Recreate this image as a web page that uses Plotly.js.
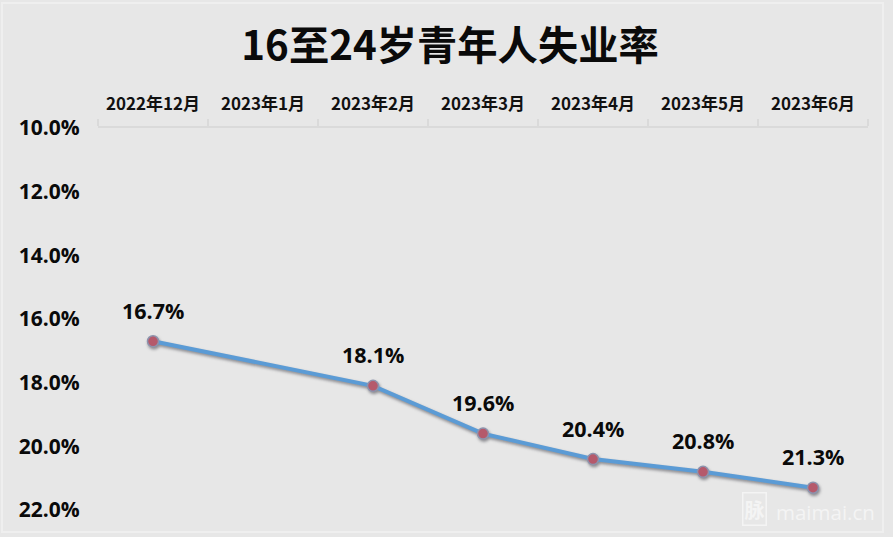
<!DOCTYPE html>
<html><head><meta charset="utf-8">
<script src="https://cdn.plot.ly/plotly-3.0.1.min.js"></script>
<style>html,body{margin:0;padding:0;background:#e7e7e7}</style></head>
<body><div id="c" style="width:893px;height:537px"></div>
<script>
const months = ['2022年12月','2023年1月','2023年2月','2023年3月','2023年4月','2023年5月','2023年6月'];
const rates = [16.7,null,18.1,19.6,20.4,20.8,21.3];
const rateLabels = ['16.7%','','18.1%','19.6%','20.4%','20.8%','21.3%'];
const yTicks = [10,12,14,16,18,20,22];
const yTickLabels = ['10.0%','12.0%','14.0%','16.0%','18.0%','20.0%','22.0%'];
const F = '"Noto Sans CJK SC","Open Sans",sans-serif';
const px = v => (v-98)/770, py = v => (510-v)/382;

const annotations = months.map((m,i)=>rates[i]===null?null:({
  x:m,y:rates[i],xref:'x',yref:'y',text:'<b>'+rateLabels[i]+'</b>',showarrow:false,
  yshift:31,font:{family:'"Open Sans",sans-serif',size:21.5,color:'#0a0a0a'}
})).filter(Boolean);
annotations.push({xref:'paper',yref:'paper',x:px(754),y:py(509),xanchor:'center',yanchor:'middle',
  text:'<b>脉</b>',showarrow:false,bordercolor:'#f4f4f4',borderwidth:1.5,borderpad:1,
  font:{family:F,size:20,color:'#f4f4f4'}});
annotations.push({xref:'paper',yref:'paper',x:px(825),y:py(512),xanchor:'center',yanchor:'middle',
  text:'maimai.cn',showarrow:false,font:{family:'"Open Sans",sans-serif',size:20.5,color:'#f4f4f4'}});

Plotly.newPlot('c',[{
  x:months,y:rates,type:'scatter',mode:'lines+markers',connectgaps:true,
  line:{color:'#5b9bd5',width:4},
  marker:{size:11,color:'#b5596b',line:{color:'#8d93ad',width:1.5}},
  hoverinfo:'skip'
}],{
  width:893,height:537,
  paper_bgcolor:'#e7e7e7',plot_bgcolor:'#e7e7e7',
  margin:{l:98,r:25,t:128,b:27},
  showlegend:false,
  shapes:[{type:'rect',xref:'paper',yref:'paper',x0:px(2),x1:px(883),y0:py(532),y1:py(3),
    line:{color:'#efefef',width:2},layer:'below'}],
  title:{text:'<b>16至24岁青年人失业率</b>',x:0.504,xanchor:'center',y:0.915,yanchor:'middle',
    font:{family:F,size:40.3,color:'#0a0a0a'}},
  xaxis:{type:'category',categoryorder:'array',categoryarray:months,side:'top',
    range:[-0.5,6.5],tickson:'boundaries',ticks:'outside',ticklen:7,tickcolor:'#dadada',tickwidth:1.5,
    showline:true,linecolor:'#dadada',linewidth:2,showgrid:false,zeroline:false,ticklabelstandoff:9,
    tickfont:{family:F,size:17,color:'#111',weight:700}},
  yaxis:{range:[22,10],tickmode:'array',tickvals:yTicks,ticktext:yTickLabels,
    ticks:'outside',ticklen:13,tickcolor:'rgba(0,0,0,0)',showline:false,showgrid:false,zeroline:false,
    tickfont:{family:'"Open Sans",sans-serif',size:21,color:'#0a0a0a',weight:700}},
  annotations:annotations
},{displayModeBar:false,staticPlot:true}).then(()=>{
  const layer=document.querySelector('.scatterlayer');
  if(layer) layer.style.filter='drop-shadow(1px 2px 1.5px rgba(60,60,70,.55))';
});
</script></body></html>
